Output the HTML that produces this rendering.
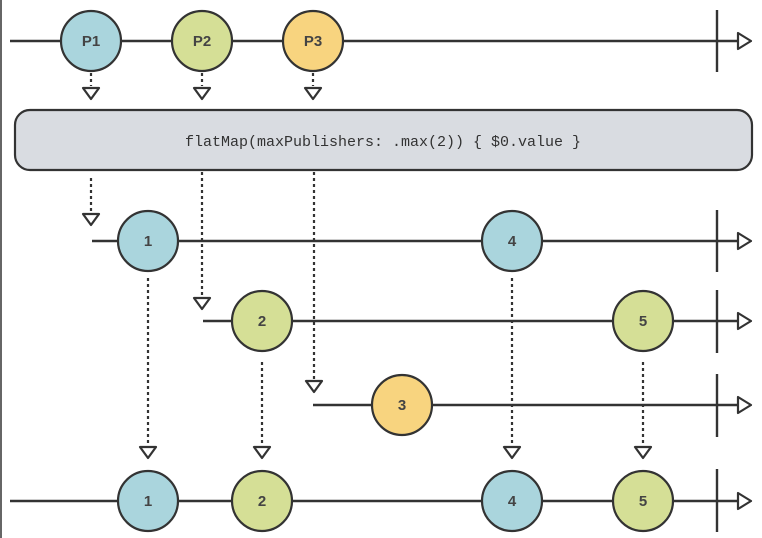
<!DOCTYPE html>
<html><head><style>html,body{margin:0;padding:0;background:#fff;}svg{display:block}</style></head><body>
<svg width="762" height="538" viewBox="0 0 762 538" xmlns="http://www.w3.org/2000/svg" font-family="Liberation Sans, sans-serif">
<defs>
<g id="tri"><polygon points="-8,0 8,0 0,11" fill="#fff" stroke="#333" stroke-width="2.2" stroke-linejoin="round"/></g>
<g id="arr"><polygon points="0,-8 13,0 0,8" fill="#fff" stroke="#333" stroke-width="2.2" stroke-linejoin="round"/></g>
</defs>
<line x1="1" y1="0" x2="1" y2="538" stroke="#666" stroke-width="2"/>
<g stroke="#333" stroke-width="2.4" fill="none">
<line x1="10" y1="41" x2="738" y2="41"/>
<line x1="92" y1="241" x2="738" y2="241"/>
<line x1="203" y1="321" x2="738" y2="321"/>
<line x1="313" y1="405" x2="738" y2="405"/>
<line x1="10" y1="501" x2="738" y2="501"/>
<line x1="717" y1="10" x2="717" y2="72"/>
<line x1="717" y1="210" x2="717" y2="272"/>
<line x1="717" y1="290" x2="717" y2="353"/>
<line x1="717" y1="374" x2="717" y2="437"/>
<line x1="717" y1="469" x2="717" y2="532"/>
</g>
<use href="#arr" x="738" y="41"/><use href="#arr" x="738" y="241"/><use href="#arr" x="738" y="321"/><use href="#arr" x="738" y="405"/><use href="#arr" x="738" y="501"/>
<g stroke="#333" stroke-width="2.2" stroke-dasharray="3,3" fill="none">
<line x1="91" y1="73" x2="91" y2="86"/><line x1="202" y1="73" x2="202" y2="86"/><line x1="313" y1="73" x2="313" y2="86"/>
<line x1="91" y1="178" x2="91" y2="212"/>
<line x1="202" y1="172" x2="202" y2="297"/>
<line x1="314" y1="172" x2="314" y2="380"/>
<line x1="148" y1="278" x2="148" y2="446"/>
<line x1="262" y1="362" x2="262" y2="446"/>
<line x1="512" y1="278" x2="512" y2="446"/>
<line x1="643" y1="362" x2="643" y2="446"/>
</g>
<use href="#tri" x="91" y="88"/><use href="#tri" x="202" y="88"/><use href="#tri" x="313" y="88"/>
<use href="#tri" x="91" y="214"/><use href="#tri" x="202" y="298"/><use href="#tri" x="314" y="381"/>
<use href="#tri" x="148" y="447"/><use href="#tri" x="262" y="447"/><use href="#tri" x="512" y="447"/><use href="#tri" x="643" y="447"/>
<rect x="15" y="110" width="737" height="60" rx="15" fill="#d9dce1" stroke="#333" stroke-width="2.2"/>
<text x="383" y="146" text-anchor="middle" font-family="Liberation Mono, monospace" font-size="15" fill="#333">flatMap(maxPublishers: .max(2)) { $0.value }</text>
<g stroke="#333" stroke-width="2.2" font-size="15" font-weight="bold" text-anchor="middle">
<circle cx="91" cy="41" r="30" fill="#aad5dd"/><circle cx="202" cy="41" r="30" fill="#d5df96"/><circle cx="313" cy="41" r="30" fill="#f8d47f"/>
<circle cx="148" cy="241" r="30" fill="#aad5dd"/><circle cx="512" cy="241" r="30" fill="#aad5dd"/>
<circle cx="262" cy="321" r="30" fill="#d5df96"/><circle cx="643" cy="321" r="30" fill="#d5df96"/>
<circle cx="402" cy="405" r="30" fill="#f8d47f"/>
<circle cx="148" cy="501" r="30" fill="#aad5dd"/><circle cx="262" cy="501" r="30" fill="#d5df96"/><circle cx="512" cy="501" r="30" fill="#aad5dd"/><circle cx="643" cy="501" r="30" fill="#d5df96"/>
</g>
<g fill="#444" font-size="15" font-weight="bold" text-anchor="middle">
<text x="91" y="46">P1</text><text x="202" y="46">P2</text><text x="313" y="46">P3</text>
<text x="148" y="246">1</text><text x="512" y="246">4</text>
<text x="262" y="326">2</text><text x="643" y="326">5</text>
<text x="402" y="410">3</text>
<text x="148" y="506">1</text><text x="262" y="506">2</text><text x="512" y="506">4</text><text x="643" y="506">5</text>
</g>
</svg>
</body></html>
